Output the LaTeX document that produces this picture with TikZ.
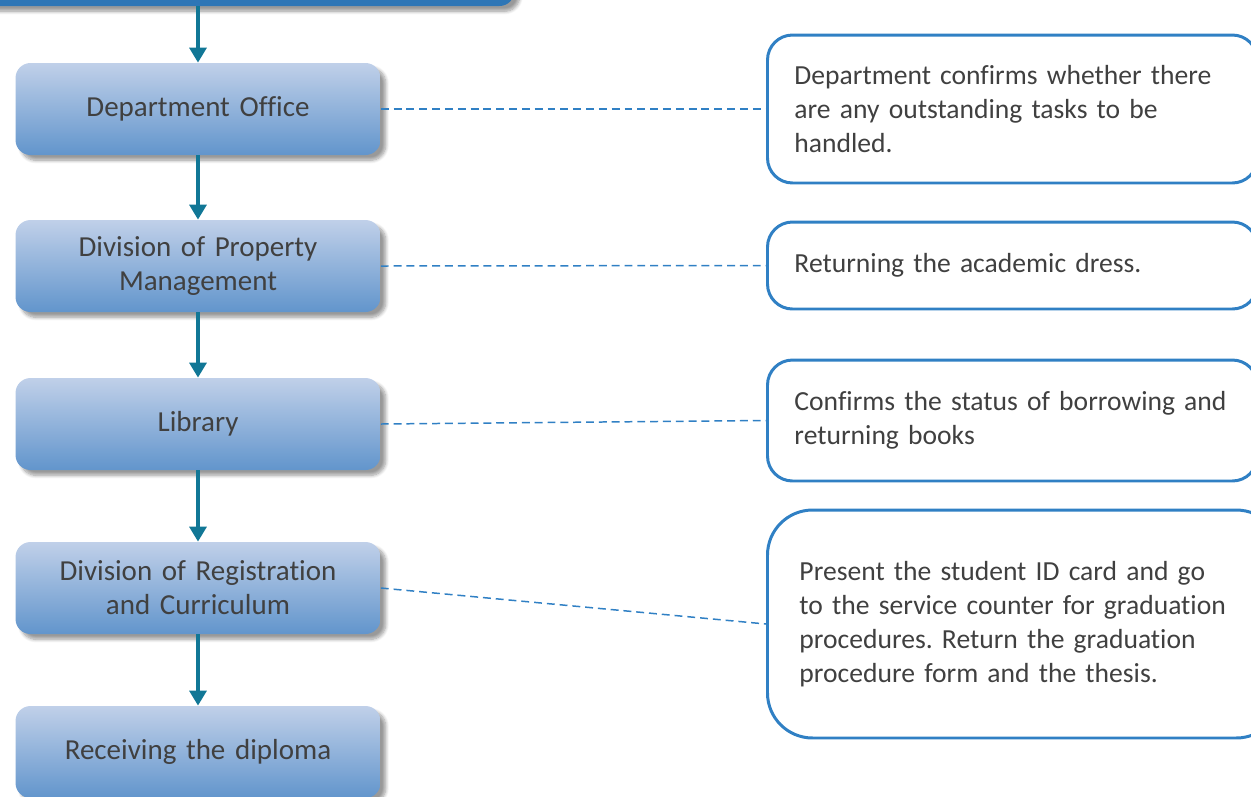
\documentclass[tikz,border=0pt]{standalone}
\usepackage{xcolor}
\usepackage{fontspec}
\setmainfont[Ligatures={NoCommon}]{Carlito}
\usepackage{tikz}
\usetikzlibrary{arrows.meta, shadows.blur}
\definecolor{headblue}{RGB}{46,118,182}
\definecolor{boxtop}{RGB}{192,208,233}
\definecolor{boxbot}{RGB}{98,149,204}
\definecolor{txtgray}{RGB}{64,64,64}
\definecolor{noteblue}{RGB}{48,128,196}
\definecolor{flowteal}{RGB}{17,119,150}
\newcommand{\flowfont}{\fontsize{16.5}{19.4}\selectfont\spaceskip=0.2em\relax}
\newcommand{\notefont}{\fontsize{15.7}{19.4}\selectfont\spaceskip=0.2em\relax}
\frenchspacing
\tikzset{
  stepbox/.style={rectangle, top color=boxtop, bottom color=boxbot,
    minimum width=7.3cm, minimum height=1.84cm, text width=6.8cm,
    align=center, rounded corners=0.3cm, font=\flowfont, text=txtgray,
    blur shadow={shadow xshift=3pt, shadow yshift=-3pt,
      shadow opacity=40, shadow blur steps=8}},
  headbox/.style={rectangle, fill=headblue, minimum width=10.7cm,
    minimum height=1.72cm, rounded corners=0.3cm,
    blur shadow={shadow xshift=3pt, shadow yshift=-3pt,
      shadow opacity=40, shadow blur steps=8}},
  notebox/.style={rectangle, draw=noteblue, fill=white, line width=1.7pt,
    text width=8.72cm, inner xsep=0.54cm, align=left, anchor=west,
    rounded corners=0.5cm, font=\notefont, text=txtgray},
  flowarrow/.style={-{Triangle[width=9.5pt, length=8.5pt]}, line width=2.8pt,
    color=flowteal},
  link/.style={line width=0.85pt, color=noteblue,
    dash pattern=on 4.5pt off 2.8pt}
}

\begin{document}
\begin{tikzpicture}[x=0.02cm, y=-0.02cm]
  \useasboundingbox (0,0) rectangle (1251,796);
  \clip (0,0) rectangle (1251,796);

  % Steps
  \node[headbox] (head) at (247,-37) {};
  \node[stepbox] (dept) at (198,109) {Department Office};
  \node[stepbox] (prop) at (198,266) {Division of Property\\Management};
  \node[stepbox] (lib) at (198,424) {Library};
  \node[stepbox] (reg) at (198,588) {Division of Registration\\and Curriculum};
  \node[stepbox] (dipl) at (198,752) {Receiving the diploma};

  % Flow
  \draw[flowarrow] (head.south -| dept.north) -- (dept.north);
  \draw[flowarrow] (dept) -- (prop);
  \draw[flowarrow] (prop) -- (lib);
  \draw[flowarrow] (lib) -- (reg);
  \draw[flowarrow] (reg) -- (dipl);

  % Notes
  \node[notebox, minimum height=2.96cm] (ndept) at (766,109)
    {Department confirms whether there\\are any outstanding tasks to be\\handled.};
  \node[notebox, minimum height=1.74cm] (nprop) at (766,265.5)
    {Returning the academic dress.};
  \node[notebox, minimum height=2.42cm] (nlib) at (766,420.5)
    {Confirms the status of borrowing and\\returning books};
  \node[notebox, minimum height=4.56cm, rounded corners=0.9cm,
    inner xsep=0.64cm, text width=9.0cm] (nreg) at (766,624)
    {Present the student ID card and go\\to the service counter for graduation\\procedures. Return the graduation\\procedure form and the thesis.};

  % Links
  \draw[link] (dept.east) -- (ndept.west);
  \draw[link] (prop.east) -- (nprop.west);
  \draw[link] (lib.east) -- (nlib.west);
  \draw[link] (reg.east) -- (nreg.west);

\end{tikzpicture}
\end{document}
